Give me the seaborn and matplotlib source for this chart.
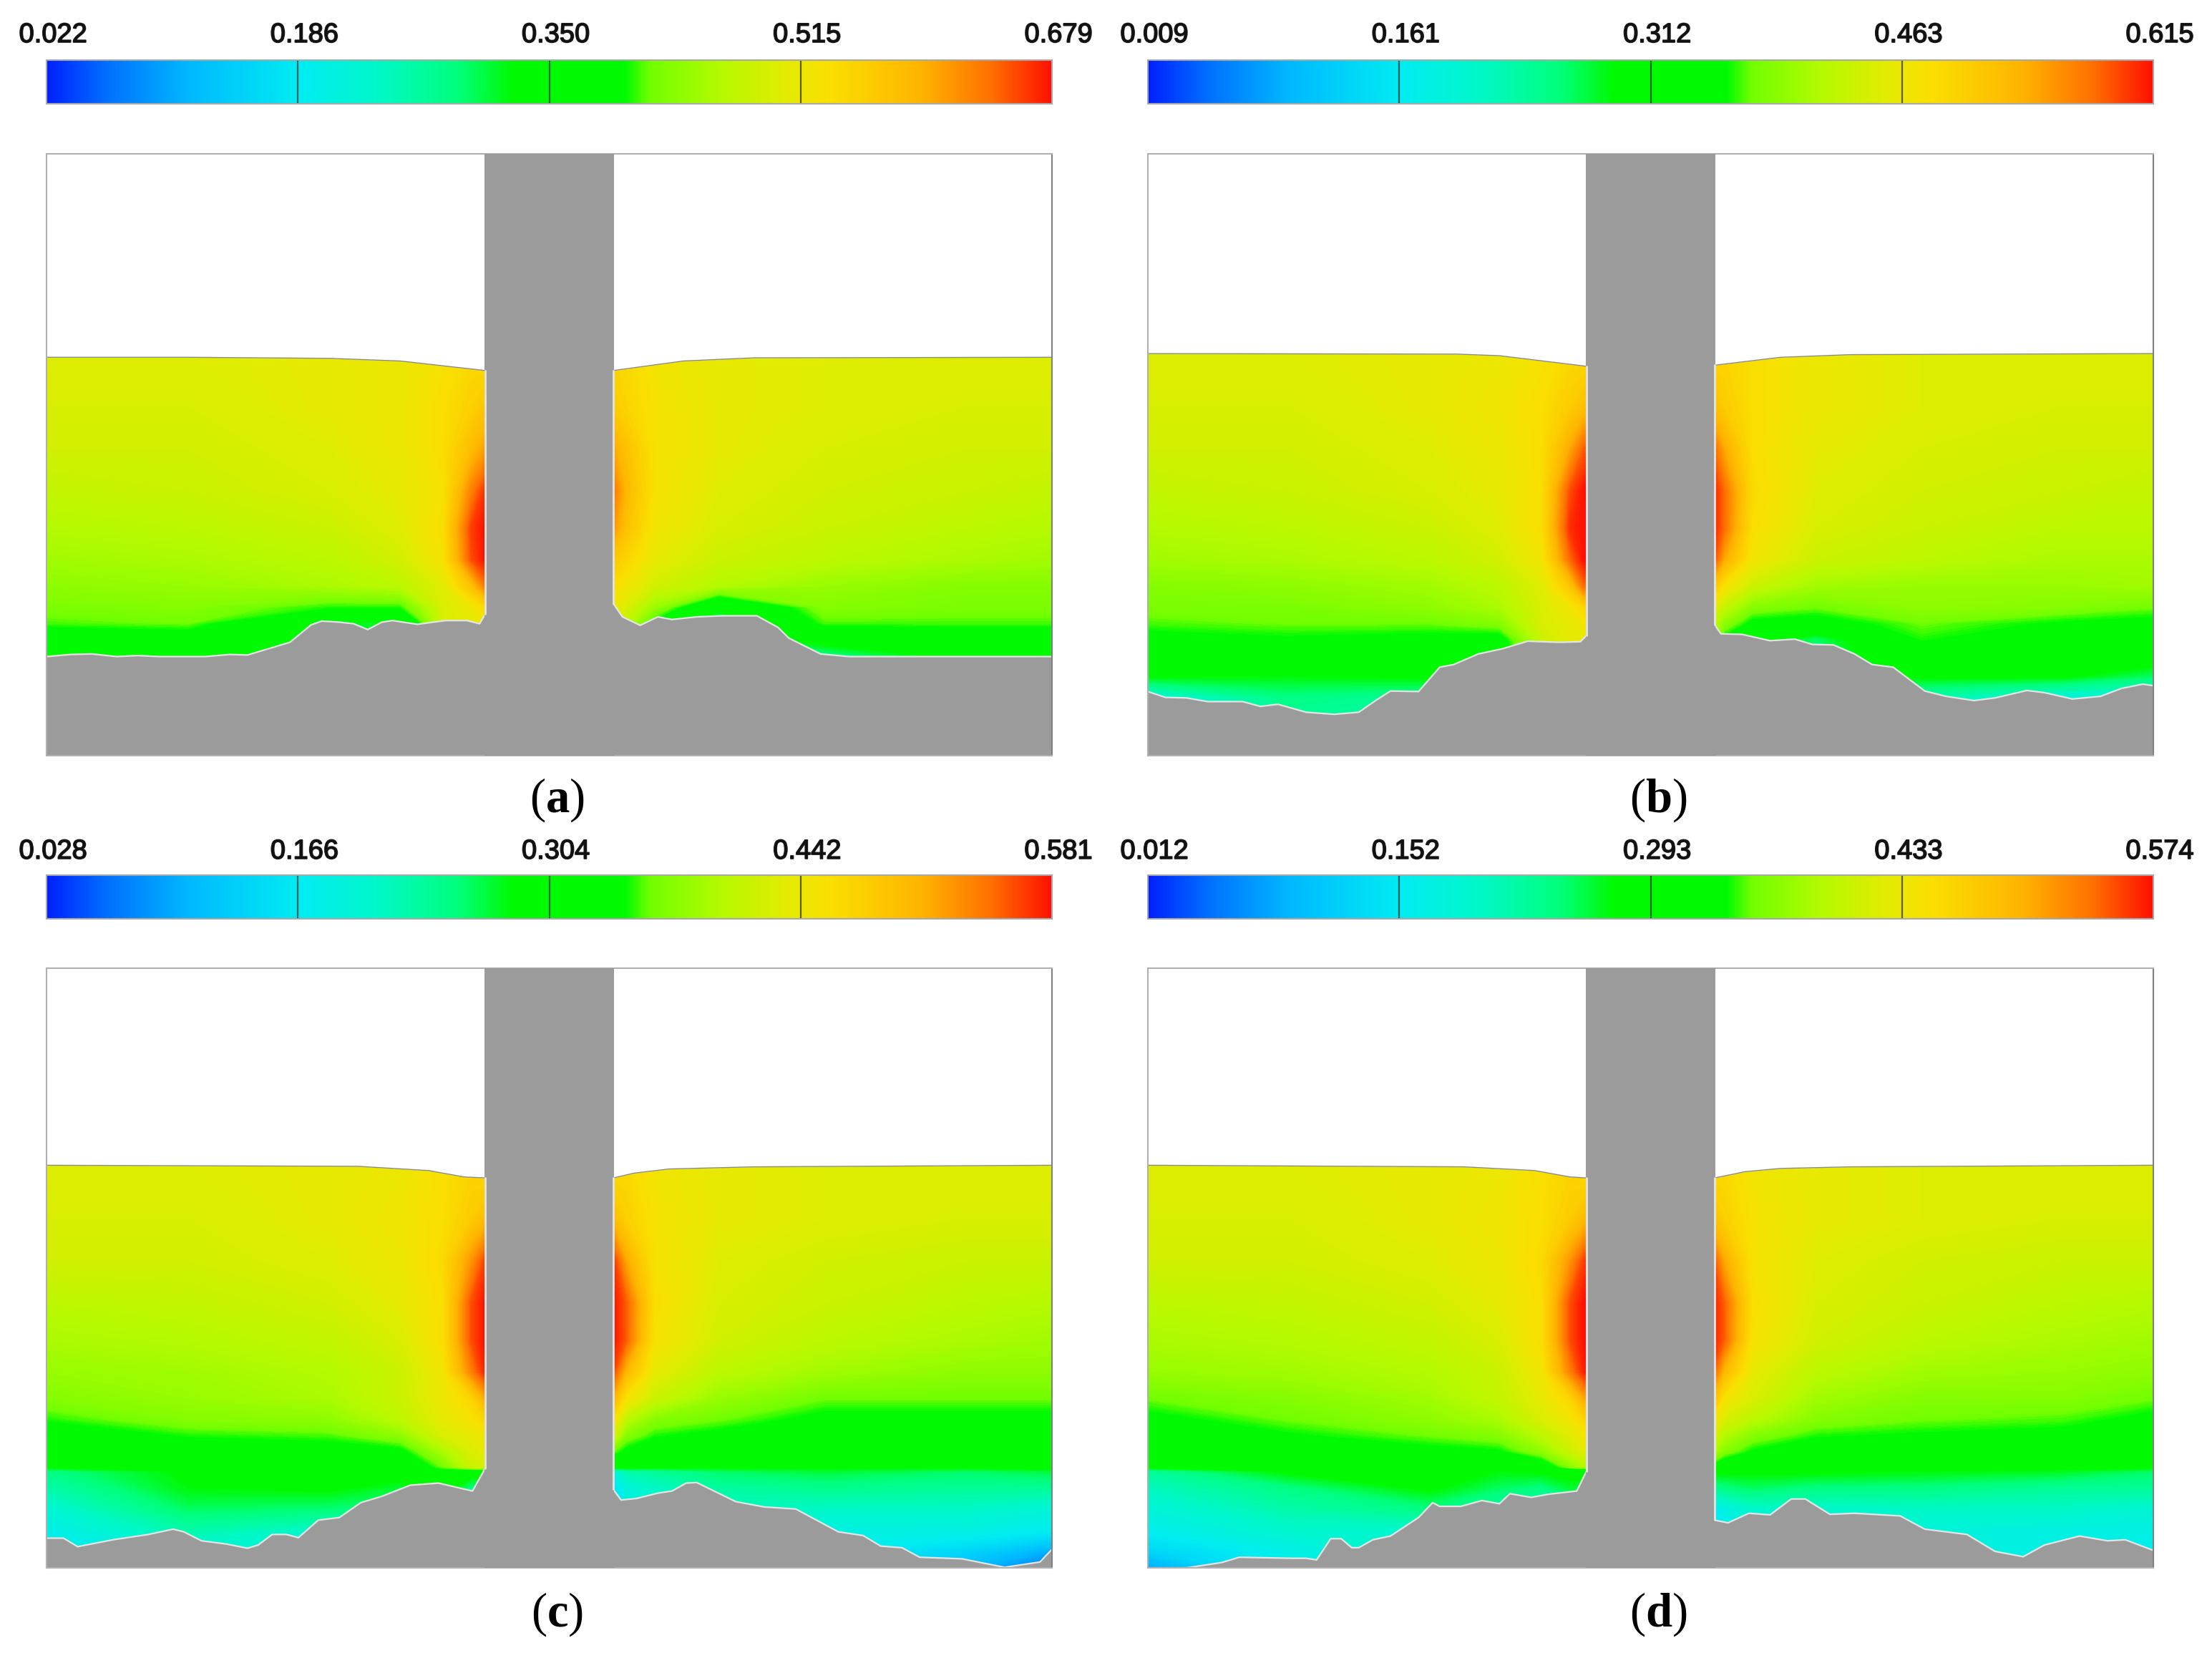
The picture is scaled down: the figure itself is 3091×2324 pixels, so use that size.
import numpy as np
import matplotlib
matplotlib.use("Agg")
import matplotlib.pyplot as plt
import matplotlib.patheffects as pe
from matplotlib.colors import LinearSegmentedColormap
import seaborn as sns

# Colour bar tick labels of each panel
TICKS_A = ["0.022", "0.186", "0.350", "0.515", "0.679"]
TICKS_B = ["0.009", "0.161", "0.312", "0.463", "0.615"]
TICKS_C = ["0.028", "0.166", "0.304", "0.442", "0.581"]
TICKS_D = ["0.012", "0.152", "0.293", "0.433", "0.574"]

# Sampling nodes of the field, in units of the flume section (pier sits between 620 and 801)
X_NODES = [0, 200, 400, 500, 560, 600, 620, 801, 820, 860, 950, 1100, 1300, 1431]
Y_NODES = [760, 660, 580, 500, 430, 370, 320, 280, 250, 220, 190, 182, 150, 110, 70, 30, 0]

# Field values, percent of each panel's colour bar range
FIELD_A = [
    [73, 73, 74, 75, 77, 79, 78, 80, 79, 76, 74, 73, 73, 73],
    [72, 72, 74, 75, 78, 81, 83, 82, 80, 77, 74, 73, 72, 72],
    [71, 71, 73, 75, 78, 85, 89, 88, 84, 77, 74, 72, 71, 71],
    [69, 70, 72, 74, 77, 92, 98, 93, 86, 77, 73, 71, 70, 69],
    [67, 68, 70, 73, 78, 97, 100, 90, 84, 76, 72, 70, 68, 67],
    [65, 66, 68, 71, 77, 96, 100, 83, 80, 74, 70, 68, 66, 65],
    [63, 64, 66, 68, 73, 84, 93, 78, 76, 71, 67, 64, 62, 62],
    [61, 62, 58, 58, 72, 75, 79, 75, 72, 64, 48, 62, 61, 61],
    [59, 60, 46, 44, 72, 74, 76, 74, 68, 56, 40, 59, 59, 59],
    [53, 54, 45, 44, 70, 72, 74, 72, 64, 52, 40, 50, 53, 53],
    [48, 49, 45, 44, 60, 60, 60, 60, 60, 50, 40, 40, 49, 49],
    [48, 49, 45, 44, 60, 60, 60, 60, 60, 50, 40, 40, 49, 49],
    [48, 49, 45, 44, 60, 60, 60, 60, 60, 50, 40, 40, 49, 49],
    [48, 49, 45, 44, 60, 60, 60, 60, 60, 50, 40, 40, 49, 49],
    [48, 49, 45, 44, 60, 60, 60, 60, 60, 50, 40, 40, 49, 49],
    [48, 49, 45, 44, 60, 60, 60, 60, 60, 50, 40, 40, 49, 49],
    [48, 49, 45, 44, 60, 60, 60, 60, 60, 50, 40, 40, 49, 49],
]
FIELD_B = [
    [73, 73, 74, 75, 77, 79, 79, 80, 80, 78, 75, 73, 73, 73],
    [72, 72, 74, 76, 78, 82, 84, 85, 82, 78, 75, 73, 72, 72],
    [71, 71, 73, 75, 78, 88, 95, 96, 88, 78, 74, 72, 71, 71],
    [69, 70, 72, 74, 78, 96, 100, 100, 94, 79, 73, 71, 70, 69],
    [67, 68, 70, 73, 78, 98, 100, 100, 94, 78, 72, 70, 68, 68],
    [65, 66, 68, 71, 76, 94, 100, 99, 88, 76, 70, 68, 66, 66],
    [62, 63, 65, 68, 73, 83, 94, 85, 77, 70, 65, 64, 64, 65],
    [61, 61, 63, 66, 72, 76, 80, 75, 69, 62, 60, 63, 62, 60],
    [59, 60, 60, 62, 72, 74, 76, 70, 63, 56, 55, 60, 57, 56],
    [56, 57, 56, 55, 70, 74, 74, 68, 56, 52, 42, 58, 54, 53],
    [52, 53, 52, 50, 70, 72, 72, 66, 52, 50, 40, 54, 51, 50],
    [51, 52, 51, 50, 70, 72, 72, 66, 52, 50, 40, 53, 50, 49],
    [47, 46, 47, 44, 60, 60, 60, 60, 50, 46, 40, 47, 47, 42],
    [30, 40, 38, 40, 50, 50, 50, 50, 46, 40, 36, 36, 30, 30],
    [30, 38, 36, 40, 50, 50, 50, 50, 46, 40, 36, 32, 28, 28],
    [30, 38, 36, 40, 50, 50, 50, 50, 46, 40, 36, 32, 28, 28],
    [30, 38, 36, 40, 50, 50, 50, 50, 46, 40, 36, 32, 28, 28],
]
FIELD_C = [
    [73, 73, 74, 75, 78, 80, 78, 78, 79, 76, 74, 73, 73, 73],
    [72, 72, 74, 76, 78, 82, 85, 85, 81, 77, 74, 73, 72, 72],
    [71, 71, 73, 75, 79, 90, 97, 98, 88, 77, 73, 71, 70, 70],
    [68, 69, 71, 74, 78, 96, 100, 100, 95, 78, 72, 70, 68, 67],
    [66, 67, 69, 72, 78, 96, 100, 100, 95, 77, 71, 68, 66, 65],
    [64, 65, 67, 70, 76, 92, 99, 97, 86, 74, 68, 65, 63, 63],
    [62, 64, 66, 70, 75, 80, 88, 87, 77, 70, 64, 60, 60, 60],
    [58, 62, 63, 68, 74, 77, 80, 78, 68, 62, 60, 56, 56, 56],
    [54, 58, 59, 63, 72, 74, 76, 72, 62, 58, 56, 52, 53, 53],
    [51, 54, 55, 56, 66, 72, 74, 60, 56, 52, 51, 49, 50, 50],
    [47, 50, 50, 50, 60, 70, 72, 50, 50, 48, 47, 47, 47, 48],
    [40, 47, 49, 49, 55, 50, 50, 30, 36, 38, 42, 44, 42, 44],
    [36, 46, 47, 44, 50, 40, 40, 22, 30, 33, 37, 39, 38, 38],
    [31, 42, 41, 40, 40, 40, 40, 20, 28, 30, 34, 33, 33, 30],
    [27, 36, 32, 36, 40, 40, 40, 20, 28, 30, 32, 28, 28, 25],
    [25, 30, 32, 36, 40, 40, 40, 20, 28, 30, 32, 26, 20, 12],
    [25, 30, 32, 36, 40, 40, 40, 20, 28, 30, 32, 26, 15, 5],
]
FIELD_D = [
    [73, 73, 74, 75, 78, 80, 78, 78, 79, 76, 74, 73, 73, 73],
    [72, 72, 74, 76, 78, 82, 85, 85, 81, 77, 74, 73, 72, 72],
    [71, 71, 73, 75, 79, 90, 97, 98, 88, 77, 73, 71, 70, 70],
    [68, 69, 71, 74, 78, 96, 100, 100, 95, 78, 72, 70, 68, 67],
    [66, 67, 69, 72, 78, 96, 100, 100, 95, 77, 71, 68, 66, 65],
    [64, 65, 67, 70, 76, 92, 99, 97, 86, 74, 68, 65, 64, 63],
    [60, 62, 65, 69, 74, 80, 88, 87, 77, 72, 65, 62, 62, 60],
    [56, 60, 63, 66, 72, 76, 80, 78, 72, 68, 62, 60, 59, 56],
    [52, 57, 60, 62, 68, 73, 76, 74, 67, 62, 58, 57, 56, 53],
    [50, 52, 56, 57, 63, 70, 73, 68, 62, 57, 54, 52, 52, 50],
    [48, 48, 51, 50, 52, 62, 66, 56, 52, 49, 48, 48, 48, 47],
    [38, 47, 49, 46, 47, 48, 48, 47, 47, 47, 47, 46, 45, 42],
    [34, 40, 47, 42, 40, 44, 44, 38, 40, 42, 40, 40, 38, 38],
    [30, 36, 40, 36, 36, 36, 36, 25, 28, 32, 32, 33, 33, 31],
    [26, 32, 32, 36, 36, 36, 36, 22, 26, 30, 30, 30, 28, 28],
    [20, 27, 32, 36, 36, 36, 36, 22, 26, 30, 30, 30, 27, 25],
    [12, 27, 32, 36, 36, 36, 36, 22, 26, 30, 30, 30, 27, 25],
]

# Bed level left and right of the pier
BED_LX_A = [0, 34, 64, 99, 129, 159, 224, 259, 284, 314, 344, 374, 389, 414, 434, 454, 474, 489, 524, 564, 594, 612, 620]
BED_LY_A = [187, 191, 192, 187, 189, 187, 187, 191, 190, 202, 214, 247, 254, 252, 249, 238, 252, 255, 248, 255, 255, 249, 267]
BED_RX_A = [801, 814, 839, 864, 884, 919, 954, 1004, 1034, 1049, 1094, 1134, 1421]
BED_RY_A = [287, 262, 246, 262, 257, 262, 264, 264, 242, 222, 192, 187, 187]

BED_LX_B = [0, 25, 55, 85, 135, 160, 185, 225, 265, 300, 325, 345, 385, 415, 435, 470, 505, 540, 585, 615, 624]
BED_LY_B = [121, 110, 109, 102, 102, 93, 97, 82, 78, 82, 105, 122, 121, 167, 172, 192, 202, 216, 214, 215, 227]
BED_RX_B = [806, 815, 845, 885, 920, 945, 975, 1005, 1030, 1060, 1105, 1135, 1175, 1205, 1250, 1275, 1315, 1355, 1385, 1415, 1430]
BED_RY_B = [247, 230, 229, 217, 220, 210, 209, 192, 172, 167, 122, 112, 104, 109, 123, 119, 107, 112, 127, 135, 132]

BED_LX_C = [0, 24, 44, 94, 144, 179, 194, 219, 254, 284, 299, 319, 339, 356, 384, 414, 444, 474, 514, 554, 602, 620]
BED_LY_C = [56, 56, 40, 53, 63, 73, 68, 51, 45, 37, 43, 63, 63, 57, 90, 95, 123, 135, 156, 160, 145, 188]
BED_RX_C = [801, 812, 834, 864, 884, 904, 919, 974, 1014, 1059, 1119, 1154, 1179, 1209, 1234, 1294, 1354, 1404, 1421]
BED_RY_C = [148, 128, 131, 141, 145, 160, 161, 125, 115, 111, 68, 61, 41, 38, 20, 17, 1, 11, 35]

BED_LX_D = [0, 55, 105, 130, 205, 225, 240, 260, 275, 290, 300, 320, 345, 385, 405, 415, 445, 475, 500, 515, 545, 570, 610, 624]
BED_LY_D = [0, 0, 10, 20, 18, 18, 15, 55, 55, 38, 38, 53, 60, 95, 123, 116, 116, 127, 121, 140, 133, 139, 145, 183]
BED_RX_D = [806, 825, 855, 885, 915, 935, 970, 1005, 1070, 1105, 1165, 1205, 1245, 1275, 1325, 1365, 1390, 1430]
BED_RY_D = [90, 85, 103, 100, 130, 130, 101, 103, 98, 73, 63, 31, 21, 43, 60, 51, 53, 33]

# Free surface level left and right of the pier
SURF_LX_A = [0, 200, 400, 500, 620]
SURF_LY_A = [752, 752, 750, 745, 727]
SURF_RX_A = [801, 900, 1000, 1421]
SURF_RY_A = [727, 745, 751, 752]

SURF_LX_B = [0, 440, 500, 624]
SURF_LY_B = [759, 758, 755, 735]
SURF_RX_B = [806, 900, 1000, 1430]
SURF_RY_B = [737, 752, 757, 759]

SURF_LX_C = [0, 440, 540, 590, 620]
SURF_LY_C = [760, 758, 750, 738, 736]
SURF_RX_C = [801, 830, 880, 1000, 1421]
SURF_RY_C = [736, 745, 753, 757, 760]

SURF_LX_D = [0, 450, 550, 600, 624]
SURF_LY_D = [760, 757, 750, 738, 736]
SURF_RX_D = [806, 850, 900, 1000, 1430]
SURF_RY_D = [736, 748, 754, 757, 760]

# Section size and pier faces of each panel
SECTION_W = [1421, 1430, 1421, 1430]
SECTION_H = [1136, 1136, 1132, 1132]
PIER_L = [620, 624, 620, 624]
PIER_R = [801, 806, 801, 806]

panels = [
    ("a", TICKS_A, FIELD_A, BED_LX_A, BED_LY_A, BED_RX_A, BED_RY_A, SURF_LX_A, SURF_LY_A, SURF_RX_A, SURF_RY_A),
    ("b", TICKS_B, FIELD_B, BED_LX_B, BED_LY_B, BED_RX_B, BED_RY_B, SURF_LX_B, SURF_LY_B, SURF_RX_B, SURF_RY_B),
    ("c", TICKS_C, FIELD_C, BED_LX_C, BED_LY_C, BED_RX_C, BED_RY_C, SURF_LX_C, SURF_LY_C, SURF_RX_C, SURF_RY_C),
    ("d", TICKS_D, FIELD_D, BED_LX_D, BED_LY_D, BED_RX_D, BED_RY_D, SURF_LX_D, SURF_LY_D, SURF_RX_D, SURF_RY_D),
]

sns.set_theme(style="white")
plt.rcParams["font.family"] = ["Liberation Sans", "DejaVu Sans"]
plt.rcParams["mathtext.fontset"] = "custom"
plt.rcParams["mathtext.bf"] = "Liberation Serif:bold"

# Colour scale of the solver output, with the green plateau in the middle
cmap = LinearSegmentedColormap.from_list("flow", [
    (0.00, "#0020ff"), (0.06, "#0070ff"), (0.14, "#00b8ff"), (0.25, "#00ecf2"),
    (0.33, "#00f8c8"), (0.41, "#00ff7a"), (0.464, "#00fa00"), (0.576, "#00fa00"),
    (0.60, "#70ff00"), (0.67, "#b4fa00"), (0.74, "#e6ea00"), (0.78, "#fadf00"),
    (0.87, "#ffb400"), (0.94, "#ff7000"), (1.00, "#ff1000"),
], N=512)
GREY = "#9b9b9b"
WALL = "#e4e4e4"
W, H = 3091, 2324
fig = plt.figure(figsize=(W / 100, H / 100), dpi=100)

def px_axes(x0, y0, x1, y1):
    # y0/y1 measured from the top of the picture
    return fig.add_axes([x0 / W, 1 - y1 / H, (x1 - x0) / W, (y1 - y0) / H])

cols = [(65, 1470), (1604, 3009)]
rows = [(84, 145, 215, 1056, 49, 1118), (1223, 1284, 1353, 2191, 1190, 2256)]

for i, (name, ticks, field, blx, bly, brx, bry, slx, sly, srx, sry) in enumerate(panels):
    x0, x1 = cols[i % 2]
    bar_t, bar_b, top, bottom, lab_y, cap_y = rows[i // 2]

    # Colour bar
    bax = px_axes(x0, bar_t, x1, bar_b)
    sns.heatmap(np.linspace(0, 1, 512)[None, :], cmap=cmap, vmin=0, vmax=1, cbar=False,
                xticklabels=False, yticklabels=False, ax=bax, rasterized=True)
    for f in [0.25, 0.5, 0.75]:
        bax.axvline(512 * f, color="black", alpha=0.6, lw=1.6)
    for sp in bax.spines.values():
        sp.set_visible(True)
        sp.set_color("#a8a8a8")
        sp.set_linewidth(1.5)
    for j, lab in enumerate(ticks):
        fig.text((x0 + (x1 - x0) * j / 4 + 9) / W, 1 - lab_y / H, lab, fontsize=27.4,
                 color="#111111", ha="center", va="center",
                 path_effects=[pe.withStroke(linewidth=1.2, foreground="#222222")])

    # Flow field, then white air, grey bed and pier on top
    ax = px_axes(x0, top, x1, bottom)
    ax.contourf(X_NODES, Y_NODES, np.array(field, dtype=float), levels=np.linspace(0, 100, 301),
                cmap=cmap, vmin=0, vmax=100, extend="both", antialiased=False)
    ax.fill_between(slx, sly, SECTION_H[i] + 5, color="white", lw=0)
    ax.fill_between(srx, sry, SECTION_H[i] + 5, color="white", lw=0)
    ax.plot(slx, sly, color="#8a8a8a", lw=1.0)
    ax.plot(srx, sry, color="#8a8a8a", lw=1.0)
    ax.fill_between(blx, bly, 0, color=GREY, lw=0)
    ax.fill_between(brx, bry, 0, color=GREY, lw=0)
    ax.plot(blx, bly, color=WALL, lw=1.6)
    ax.plot(brx, bry, color=WALL, lw=1.6)
    ax.axvspan(PIER_L[i] - 1, PIER_R[i] + 1, color=GREY, lw=0, zorder=3)
    ax.plot([PIER_L[i], PIER_L[i]], [bly[-1], sly[-1]], color=WALL, lw=2, zorder=4)
    ax.plot([PIER_R[i], PIER_R[i]], [bry[0], sry[0]], color=WALL, lw=2, zorder=4)
    ax.set_xlim(0, SECTION_W[i])
    ax.set_ylim(0, SECTION_H[i])
    ax.set_xticks([])
    ax.set_yticks([])
    for sp in ax.spines.values():
        sp.set_visible(True)
        sp.set_color("#b0b0b0")
        sp.set_linewidth(1.5)
    ax.spines["right"].set_color("#808080")

    # Panel caption
    fig.text(((x0 + x1) / 2 + 11) / W, 1 - cap_y / H, "($\\mathbf{" + name + "}$)", fontsize=48,
             family="Liberation Serif", color="black", ha="center", va="center")

fig.savefig("out.png", dpi=100, facecolor="white")
